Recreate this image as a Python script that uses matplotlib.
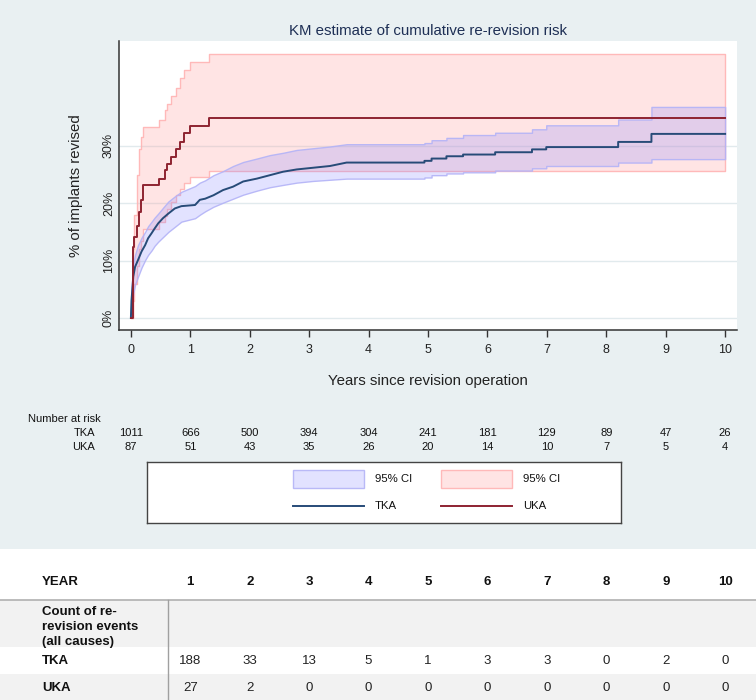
import matplotlib
matplotlib.use("Agg")
import matplotlib.pyplot as plt
from matplotlib.patches import Rectangle
from matplotlib.lines import Line2D
from matplotlib.transforms import blended_transform_factory

plt.rcParams['font.family'] = ['Liberation Sans', 'DejaVu Sans']

# ---- KM data (percent revised) ----
tka_t = [0, 0.01, 0.04, 0.07, 0.12, 0.18, 0.24, 0.29, 0.35, 0.40, 0.46, 0.54, 0.63, 0.74, 0.85,
         1.08, 1.16, 1.25, 1.39, 1.55, 1.72, 1.89, 2.12, 2.34, 2.56, 2.79, 3.07, 3.35, 3.63,
         4.94, 5.06, 5.31, 5.59, 6.13, 6.75, 6.99, 8.2, 8.76, 10.0]
tka_est = [0, 3.0, 7.2, 8.9, 10.1, 11.6, 12.7, 13.9, 14.8, 15.6, 16.5, 17.4, 18.2, 19.1, 19.5,
           19.7, 20.6, 20.8, 21.4, 22.3, 22.9, 23.8, 24.3, 24.9, 25.5, 25.9, 26.2, 26.5, 27.1,
           27.4, 27.8, 28.2, 28.5, 28.9, 29.4, 29.8, 30.7, 32.1, 32.1]
tka_hi = [0, 5.0, 9.5, 11.0, 12.7, 14.0, 15.0, 16.0, 16.8, 17.5, 18.2, 19.2, 20.3, 21.2, 22.0,
          23.0, 23.6, 24.0, 24.9, 25.6, 26.5, 27.2, 27.8, 28.4, 28.8, 29.3, 29.6, 29.9, 30.3,
          30.5, 31.0, 31.4, 31.9, 32.3, 32.9, 33.6, 34.6, 36.8, 36.8]
tka_lo = [0, 1.5, 4.3, 5.8, 7.2, 8.8, 10.1, 11.0, 11.8, 12.6, 13.3, 14.1, 15.0, 15.9, 16.8,
          17.4, 18.0, 18.6, 19.4, 20.1, 20.8, 21.5, 22.2, 22.8, 23.2, 23.6, 23.9, 24.1, 24.3,
          24.5, 24.9, 25.2, 25.4, 25.7, 26.1, 26.5, 27.1, 27.7, 27.7]

uka_t = [0, 0.028, 0.056, 0.095, 0.135, 0.168, 0.207, 0.477, 0.572, 0.60, 0.668, 0.752,
         0.825, 0.898, 1.0, 1.31, 10.0]
uka_est = [0, 12.4, 14.2, 16.0, 18.5, 20.6, 23.2, 24.3, 25.8, 26.9, 28.1, 29.4, 30.7, 32.2,
           33.4, 34.8, 34.8]
uka_hi = [0, 12.0, 18.0, 25.0, 29.5, 31.5, 33.3, 34.5, 36.2, 37.4, 38.7, 40.1, 41.8, 43.2,
          44.7, 46.1, 46.1]
uka_lo = [0, 3.0, 6.0, 9.0, 12.0, 13.5, 15.6, 16.7, 17.8, 19.0, 20.2, 21.4, 22.5, 23.5,
          24.5, 25.7, 25.7]

# ---- number at risk ----
risk_years = [0, 1, 2, 3, 4, 5, 6, 7, 8, 9, 10]
risk_tka = [1011, 666, 500, 394, 304, 241, 181, 129, 89, 47, 26]
risk_uka = [87, 51, 43, 35, 26, 20, 14, 10, 7, 5, 4]

# ---- events table ----
table_years = [1, 2, 3, 4, 5, 6, 7, 8, 9, 10]
events_tka = [188, 33, 13, 5, 1, 3, 3, 0, 2, 0]
events_uka = [27, 2, 0, 0, 0, 0, 0, 0, 0, 0]

W, H = 756, 700
BG = '#e9f0f2'
TKA_C = '#274b78'
UKA_C = '#8e2331'
TKA_FILL = (0.55, 0.55, 1.0, 0.25)
TKA_EDGE = (0.7, 0.7, 0.97, 0.9)
UKA_FILL = (1.0, 0.6, 0.6, 0.26)
UKA_EDGE = (1.0, 0.7, 0.7, 0.9)


def km_path(t, v, smooth_until):
    # dense early part of the curve drawn as a line, later jumps as steps
    xs, ys = [t[0]], [v[0]]
    for i in range(1, len(t)):
        if t[i] > smooth_until:
            xs.append(t[i])
            ys.append(v[i - 1])
        xs.append(t[i])
        ys.append(v[i])
    return xs, ys


fig = plt.figure(figsize=(W / 100, H / 100), dpi=100, facecolor='white')
fig.patches.append(Rectangle((0, 1 - 549 / H), 1, 549 / H, transform=fig.transFigure,
                             facecolor=BG, edgecolor='none', zorder=-10))

# main KM plot
ax = fig.add_axes([119 / W, 1 - 330 / H, (737 - 119) / W, (330 - 41) / H])
ax.set_facecolor('white')
ax.set_xlim(-0.2, 10.2)
ax.set_ylim(-2.1, 48.3)

for v in [0, 10, 20, 30]:
    ax.axhline(v, color='#e1eaed', lw=1.0, zorder=0)

ux, ulo = km_path(uka_t, uka_lo, 0)
_, uhi = km_path(uka_t, uka_hi, 0)
_, uest = km_path(uka_t, uka_est, 0)
tx, tlo = km_path(tka_t, tka_lo, 3.7)
_, thi = km_path(tka_t, tka_hi, 3.7)
_, test = km_path(tka_t, tka_est, 3.7)

ax.fill_between(ux, ulo, uhi, facecolor=UKA_FILL, edgecolor=UKA_EDGE, lw=1.0, zorder=1)
ax.fill_between(tx, tlo, thi, facecolor=TKA_FILL, edgecolor=TKA_EDGE, lw=1.0, zorder=2)
ax.plot(tx, test, color=TKA_C, lw=1.4, zorder=3)
ax.plot(ux, uest, color=UKA_C, lw=1.4, zorder=3)

ax.set_title('KM estimate of cumulative re-revision risk', fontsize=10.8, color='#1e2f55', pad=4)
ax.set_xticks(range(0, 11))
ax.set_yticks([0, 10, 20, 30])
ax.set_yticklabels(['0%', '10%', '20%', '30%'], rotation=90, va='center')
ax.tick_params(axis='x', length=5, width=1, color='#333333', labelsize=9, labelcolor='#222222', pad=5)
ax.tick_params(axis='y', length=0, labelsize=9, labelcolor='#222222', pad=3)
ax.set_xlabel('Years since revision operation', fontsize=10.8, color='#222222', labelpad=13)
ax.set_ylabel('% of implants revised', fontsize=10.8, color='#222222', labelpad=14)
for s in ['top', 'right']:
    ax.spines[s].set_visible(False)
for s in ['left', 'bottom']:
    ax.spines[s].set_color('#333333')
    ax.spines[s].set_linewidth(1.1)

# number at risk
tr = blended_transform_factory(ax.transData, fig.transFigure)
fig.text(28 / W, 1 - 419 / H, 'Number at risk', fontsize=8, va='center', ha='left', color='#111111')
fig.text(95 / W, 1 - 433 / H, 'TKA', fontsize=8, va='center', ha='right', color='#111111')
fig.text(95 / W, 1 - 447 / H, 'UKA', fontsize=8, va='center', ha='right', color='#111111')
for yr, a, b in zip(risk_years, risk_tka, risk_uka):
    ax.text(yr, 1 - 433 / H, str(a), transform=tr, fontsize=8, ha='center', va='center', color='#111111')
    ax.text(yr, 1 - 447 / H, str(b), transform=tr, fontsize=8, ha='center', va='center', color='#111111')

# legend box
lg = fig.add_axes([147 / W, 1 - 523 / H, (621 - 147) / W, (523 - 462) / H])
lg.set_xlim(147, 621)
lg.set_ylim(523, 462)
lg.set_xticks([])
lg.set_yticks([])
lg.set_facecolor('white')
for s in lg.spines.values():
    s.set_color('#444444')
    s.set_linewidth(1.0)
lg.add_patch(Rectangle((293, 470), 71, 18, facecolor=TKA_FILL, edgecolor=TKA_EDGE, lw=1.0))
lg.add_patch(Rectangle((441, 470), 71, 18, facecolor=UKA_FILL, edgecolor=UKA_EDGE, lw=1.0))
lg.add_line(Line2D([293, 364], [506, 506], color=TKA_C, lw=1.4))
lg.add_line(Line2D([441, 512], [506, 506], color=UKA_C, lw=1.4))
lg.text(375, 479, '95% CI', fontsize=8.2, va='center', color='#111111')
lg.text(523, 479, '95% CI', fontsize=8.2, va='center', color='#111111')
lg.text(375, 506, 'TKA', fontsize=8.2, va='center', color='#111111')
lg.text(523, 506, 'UKA', fontsize=8.2, va='center', color='#111111')

# events table
tb = fig.add_axes([0, 0, 1, 151 / H])
tb.set_xlim(0, W)
tb.set_ylim(700, 549)
tb.axis('off')
tb.add_patch(Rectangle((0, 600), W, 47, facecolor='#f2f2f2', edgecolor='none'))
tb.add_patch(Rectangle((0, 674), W, 26, facecolor='#f2f2f2', edgecolor='none'))
tb.plot([0, W], [600, 600], color='#b0b0b0', lw=1.2)
tb.plot([168, 168], [600, 700], color='#a0a0a0', lw=1.0)
tt = blended_transform_factory(ax.transData, tb.transData)
tb.text(42, 582, 'YEAR', fontsize=9.5, fontweight='bold', va='center', color='#111111')
tb.text(42, 627, 'Count of re-\nrevision events\n(all causes)', fontsize=9.5, fontweight='bold',
        va='center', linespacing=1.3, color='#111111')
tb.text(42, 661, 'TKA', fontsize=9.5, fontweight='bold', va='center', color='#111111')
tb.text(42, 688, 'UKA', fontsize=9.5, fontweight='bold', va='center', color='#111111')
for yr, a, b in zip(table_years, events_tka, events_uka):
    tb.text(yr, 582, str(yr), transform=tt, fontsize=9.5, fontweight='bold', ha='center', va='center', color='#111111')
    tb.text(yr, 661, str(a), transform=tt, fontsize=9.5, ha='center', va='center', color='#222222')
    tb.text(yr, 688, str(b), transform=tt, fontsize=9.5, ha='center', va='center', color='#222222')

fig.savefig('out.png', dpi=100, facecolor='white')
